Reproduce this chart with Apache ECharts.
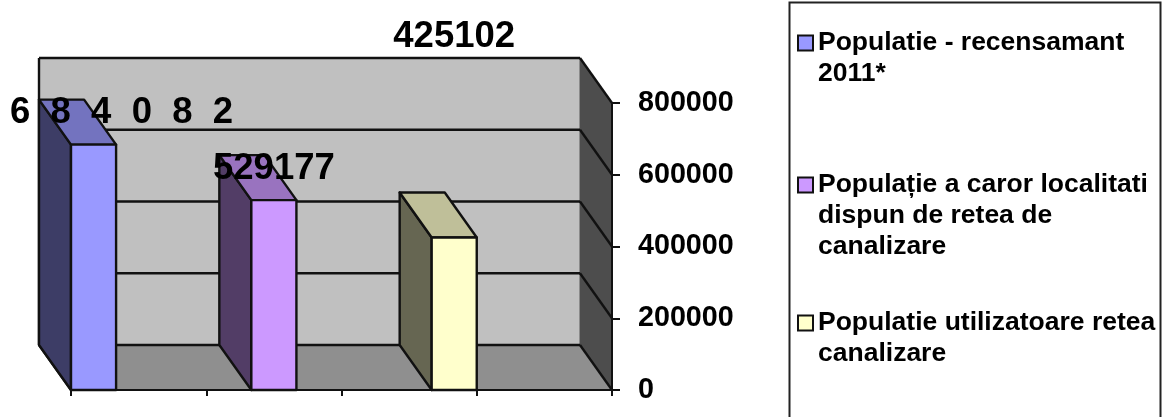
<!DOCTYPE html>
<html>
<head>
<meta charset="utf-8">
<script src="https://cdn.jsdelivr.net/npm/echarts@6/dist/echarts.min.js"></script>
<style>
html,body{margin:0;padding:0;background:#fff;overflow:hidden}
#c{width:1162px;height:417px;filter:blur(0.5px)}
</style>
</head>
<body>
<div id="c"></div>
<script>
// ---- data ----
const seriesNames = [
  'Populatie - recensamant\n2011*',
  'Populație a caror localitati\ndispun de retea de\ncanalizare',
  'Populatie utilizatoare retea\ncanalizare'
];
const seriesValues = [684082, 529177, 425102];
const dataLabels = ['6  8  4  0  8  2', '529177', '425102'];
const barStarts = [0, 4 / 3, 8 / 3];
const barSpan = 1 / 3;
const yTicks = [0, 200000, 400000, 600000, 800000];

// ---- style ----
const FONT = '"Liberation Sans", Arial, sans-serif';
const INK = '#111111';
const DX = -32, DY = -45;                 // projected depth of the 3D box
const frontColors = ['#9999ff', '#cc99ff', '#ffffcc'];
const topColors = ['#7373bf', '#9973bf', '#bfbf99'];
const sideColors = ['#3d3d66', '#523d66', '#666652'];
const labelShift = [[28, -32], [0, -31], [0, -201]];   // label centre relative to the bar's front top centre
const legendTops = [-3.5, 107.5, 276.5];
const legendLines = [2, 3, 2];
const LINE = 31;

function poly(points, fill) {
  return { type: 'polygon', shape: { points },
    style: { fill, stroke: INK, lineWidth: 2.4, lineJoin: 'round' } };
}
function seg(a, b) {
  return { type: 'line', shape: { x1: a[0], y1: a[1], x2: b[0], y2: b[1] },
    style: { stroke: INK, lineWidth: 2.4, fill: null } };
}
const back = p => [p[0] + DX, p[1] + DY];

function renderFrame(params, api) {
  const v = api.value(1);
  const L = api.coord([0, v]);
  const R = api.coord([4, v]);
  const children = [];
  if (params.dataIndex === 0) {
    const top = api.coord([4, yTicks[yTicks.length - 1]]);
    const topL = api.coord([0, yTicks[yTicks.length - 1]]);
    children.push({ type: 'polygon',
      shape: { points: [back(topL), back(top), back(R), back(L)] },
      style: { fill: '#c0c0c0', stroke: '#555', lineWidth: 1 } });
    children.push({ type: 'polygon',
      shape: { points: [back(top), top, R, back(R)] },
      style: { fill: '#4d4d4d' } });
    children.push({ type: 'polygon',
      shape: { points: [L, R, back(R), back(L)] },
      style: { fill: '#8f8f8f' } });
    children.push(seg(back(topL), back(L)));
    children.push(seg(L, back(L)));
  }
  children.push(seg(back(L), back(R)));
  children.push(seg(back(R), R));
  return { type: 'group', children };
}

function renderBar(i) {
  return function (params, api) {
    const x0 = api.value(0), h = api.value(1), x1 = api.value(2);
    const a = api.coord([x0, h]), b = api.coord([x1, h]);
    const c = api.coord([x1, 0]), d = api.coord([x0, 0]);
    return { type: 'group', children: [
      poly([back(a), a, d, back(d)], sideColors[i]),
      poly([back(a), back(b), b, a], topColors[i]),
      poly([a, b, c, d], frontColors[i]),
      { type: 'text', style: {
          text: dataLabels[i],
          x: (a[0] + b[0]) / 2 + labelShift[i][0],
          y: a[1] + labelShift[i][1],
          align: 'center', verticalAlign: 'middle',
          font: 'bold 36.5px ' + FONT, fill: '#000' } }
    ] };
  };
}

const chart = echarts.init(document.getElementById('c'), null, { renderer: 'canvas' });
chart.setOption({
  animation: false,
  backgroundColor: '#fff',
  grid: { left: 71, right: 550, top: 103, bottom: 27 },
  xAxis: { type: 'value', min: 0, max: 4, interval: 1, z: 10,
    axisLine: { show: true, lineStyle: { color: INK, width: 2 } },
    axisTick: { show: true, length: 6, lineStyle: { color: INK, width: 2 } },
    axisLabel: { show: false }, splitLine: { show: false } },
  yAxis: { type: 'value', position: 'right', min: 0, max: 800000, interval: 200000, z: 10,
    axisLine: { show: true, onZero: false, lineStyle: { color: INK, width: 2 } },
    axisTick: { show: true, length: 8, lineStyle: { color: INK, width: 2 } },
    axisLabel: { margin: 26, color: '#000', fontFamily: FONT, fontWeight: 'bold', fontSize: 28.7,
      padding: [3, 0, 0, 0], formatter: v => String(v) },
    splitLine: { show: false } },
  legend: seriesNames.map((name, i) => ({
    data: [name], left: 797, top: legendTops[i], orient: 'vertical', padding: 0,
    icon: 'rect', itemWidth: 15, itemHeight: 15, itemGap: 0, selectedMode: false,
    formatter: n => '\n'.repeat(legendLines[i] - 1) + n,
    textStyle: { color: '#000', fontFamily: FONT, fontWeight: 'bold', fontSize: 26.5, lineHeight: LINE }
  })),
  graphic: [{ type: 'rect', z: -1, silent: true,
    shape: { x: 789.5, y: 2.5, width: 371, height: 430 },
    style: { fill: '#fff', stroke: '#222', lineWidth: 2 } }],
  series: [
    { type: 'custom', silent: true, z: 1, data: yTicks.map(v => [0, v]), renderItem: renderFrame,
      encode: { x: 0, y: 1 }, clip: false }
  ].concat(seriesNames.map((name, i) => ({
    type: 'custom', name, silent: true, z: 2 + i,
    itemStyle: { color: frontColors[i], borderColor: INK, borderWidth: 2 },
    data: [[barStarts[i], seriesValues[i], barStarts[i] + barSpan]],
    encode: { x: [0, 2], y: 1 }, renderItem: renderBar(i), clip: false
  })))
});
</script>
</body>
</html>
